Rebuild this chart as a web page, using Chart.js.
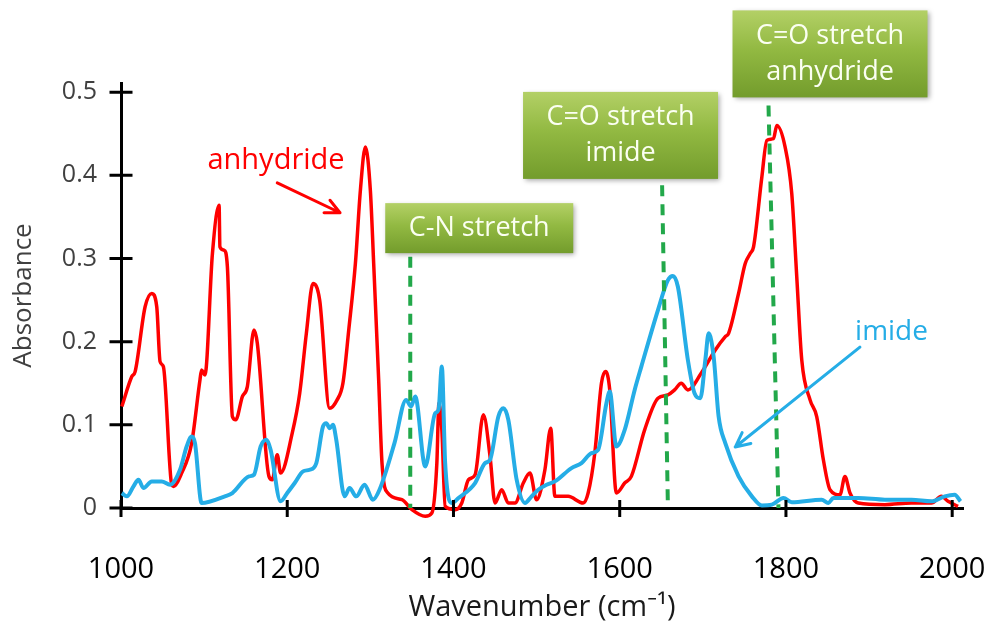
<!DOCTYPE html>
<html>
<head>
<meta charset="utf-8">
<script src="https://cdn.jsdelivr.net/npm/chart.js@4.4.1/dist/chart.umd.min.js"></script>
<style>
  html, body { margin: 0; padding: 0; background: #fff; }
</style>
</head>
<body>
<canvas id="ftir" width="1000" height="637"></canvas>
<script>
// spectra (wavenumber cm-1 / absorbance)
const anhydrideWn = [1001,1013,1017,1029,1037,1043,1047,1051,1061,1063,1073,1085,1095,1097,1101,1110,1118,1119,1124,1128,
  1134,1138,1146,1152,1160,1164,1178,1182,1188,1192,1206,1215,1223,1231,1239,1251,1260,1267,1274,1282,
  1288,1294,1300,1304,1310,1314,1321,1338,1350,1366,1374,1380,1382.5,1386,1390,1402,1410,1418,1426,1436,
  1444,1450,1458,1466,1474,1484,1492,1500,1510,1517,1522,1538,1556,1562,1570,1578,1583,1588,1596,1606,
  1614,1630,1646,1658,1666,1674,1682,1698,1715,1727,1731,1743,1751,1757,1761,1771,1777,1785,1789,1799,
  1807,1813,1819,1829,1837,1845,1853,1865,1871,1877,1887,1919,1951,1975,1987,1995,2007];
const anhydrideAbs = [0.122,0.158,0.164,0.242,0.258,0.242,0.176,0.170,0.028,0.026,0.042,0.078,0.154,0.166,0.160,0.306,0.364,0.314,0.310,0.290,
  0.110,0.106,0.134,0.146,0.214,0.198,0.038,0.034,0.064,0.042,0.090,0.138,0.210,0.270,0.250,0.120,0.130,0.150,0.214,0.294,
  0.382,0.434,0.382,0.294,0.154,0.054,0.018,0.010,-0.002,-0.010,-0.006,0.054,0.126,0.094,0.002,-0.002,0.006,0.034,0.040,0.112,
  0.062,0.006,0.022,0.006,0.006,0.030,0.042,0.010,0.046,0.096,0.014,0.014,0.006,0.018,0.066,0.150,0.164,0.142,0.018,0.030,
  0.038,0.094,0.132,0.136,0.142,0.150,0.142,0.162,0.190,0.206,0.210,0.258,0.294,0.306,0.314,0.398,0.442,0.444,0.460,0.434,
  0.378,0.278,0.178,0.130,0.110,0.058,0.022,0.016,0.038,0.018,0.006,0.004,0.006,0.006,0.014,0.008,0.002];

const imideWn = [1001,1007,1015,1021,1027,1037,1049,1059,1071,1079,1085,1089,1097,1125,1134,1154,1160,1168,1175,1180,
  1192,1200,1209,1219,1227,1235,1243,1247,1251,1255,1259,1269,1275,1283,1293,1303,1311,1329,1343,1349,
  1354,1366,1378,1382,1386,1390,1398,1406,1426,1438,1444,1454,1460,1466,1476,1486,1494,1502,1512,1522,
  1542,1554,1566,1574,1584,1588,1596,1606,1618,1626,1646,1658,1664,1670,1682,1690,1697,1703,1707,1713,
  1719,1727,1743,1759,1771,1783,1797,1807,1843,1851,1857,1887,1919,1951,1975,1991,2003,2010];
const imideAbs = [0.018,0.014,0.026,0.034,0.024,0.032,0.032,0.028,0.046,0.074,0.086,0.078,0.006,0.014,0.018,0.038,0.040,0.074,0.082,0.070,
  0.008,0.018,0.030,0.044,0.046,0.054,0.098,0.102,0.096,0.100,0.082,0.014,0.024,0.014,0.028,0.010,0.022,0.078,0.130,0.122,
  0.134,0.050,0.114,0.118,0.170,0.054,0.006,0.012,0.030,0.054,0.058,0.110,0.120,0.106,0.034,0.006,0.014,0.022,0.028,0.032,
  0.048,0.054,0.066,0.070,0.126,0.140,0.074,0.094,0.142,0.170,0.238,0.274,0.279,0.266,0.178,0.138,0.132,0.178,0.210,0.182,
  0.110,0.078,0.038,0.014,0.003,0.004,0.012,0.007,0.010,0.006,0.012,0.012,0.010,0.010,0.008,0.014,0.016,0.008];

const xTicks = [1000, 1200, 1400, 1600, 1800, 2000];
const yTicks = [0, 0.1, 0.2, 0.3, 0.4, 0.5];

// band markers (dashed lines): wavenumber at top / at bottom, absorbance at top
const markerTopWn = [1348, 1651, 1779];
const markerBottomWn = [1348, 1658, 1791];
const markerTopAbs = [0.302, 0.388, 0.484];

// green label boxes, centred on a data position
const boxLines = [['C-N stretch'], ['C=O stretch', 'imide'], ['C=O stretch', 'anhydride']];
const boxWn = [1431, 1601, 1853];
const boxAbs = [0.3365, 0.448, 0.546];

// series labels and their arrows
const labelText = ['anhydride', 'imide'];
const labelWn = [1186.5, 1927];
const labelAbs = [0.418, 0.2115];
const arrowFromWn = [1188, 1889];
const arrowFromAbs = [0.391, 0.1935];
const arrowToWn = [1263.5, 1739];
const arrowToAbs = [0.355, 0.0733];

const RED = '#ff0000';
const BLUE = '#25ade6';
const FONT = "'Open Sans', 'Noto Sans', sans-serif";


function points(xs, ys) {
    return xs.map((v, i) => ({x: v, y: ys[i]}));
}

function arrow(ctx, x0, y0, x1, y1, color) {
    const a = Math.atan2(y1 - y0, x1 - x0);
    ctx.strokeStyle = color;
    ctx.lineWidth = 3;
    ctx.lineCap = 'round';
    ctx.beginPath();
    ctx.moveTo(x0, y0);
    ctx.lineTo(x1, y1);
    for (const s of [-1, 1]) {
        ctx.moveTo(x1, y1);
        ctx.lineTo(x1 - 16 * Math.cos(a + s * 0.45), y1 - 16 * Math.sin(a + s * 0.45));
    }
    ctx.stroke();
}

function greenBox(ctx, cx, cy, lines) {
    const w = lines.length > 1 ? 195 : 188;
    const h = lines.length > 1 ? 87 : 50;
    const x0 = cx - w / 2, y0 = cy - h / 2;
    ctx.save();
    ctx.shadowColor = 'rgba(0,0,0,0.35)';
    ctx.shadowBlur = 5;
    ctx.shadowOffsetX = 2;
    ctx.shadowOffsetY = 2;
    const g = ctx.createLinearGradient(0, y0, 0, y0 + h);
    g.addColorStop(0, '#b3d066');
    g.addColorStop(0.45, '#92b942');
    g.addColorStop(1, '#739c2c');
    ctx.fillStyle = g;
    ctx.fillRect(x0, y0, w, h);
    ctx.restore();
    ctx.fillStyle = '#fbfff2';
    ctx.font = '27px ' + FONT;
    ctx.textAlign = 'center';
    ctx.textBaseline = 'middle';
    lines.forEach((t, i) => {
        ctx.fillText(t, cx, cy + (i - (lines.length - 1) / 2) * 36);
    });
}

// annotations + axis ticks that cross the axis lines
const overlay = {
    id: 'overlay',
    afterDatasetsDraw(chart) {
        const {ctx, chartArea, scales: {x, y}} = chart;
        ctx.save();

        // dashed band markers
        ctx.strokeStyle = '#22a84a';
        ctx.lineWidth = 4;
        ctx.setLineDash([11, 8]);
        for (let i = 0; i < markerTopWn.length; i++) {
            ctx.beginPath();
            ctx.moveTo(x.getPixelForValue(markerTopWn[i]), y.getPixelForValue(markerTopAbs[i]));
            ctx.lineTo(x.getPixelForValue(markerBottomWn[i]), y.getPixelForValue(0));
            ctx.stroke();
        }
        ctx.setLineDash([]);

        for (let i = 0; i < boxLines.length; i++) {
            greenBox(ctx, x.getPixelForValue(boxWn[i]), y.getPixelForValue(boxAbs[i]), boxLines[i]);
        }

        const colors = [RED, BLUE];
        for (let i = 0; i < labelText.length; i++) {
            ctx.fillStyle = colors[i];
            ctx.font = (i === 0 ? '29px ' : '28px ') + FONT;
            ctx.textAlign = 'center';
            ctx.textBaseline = 'middle';
            ctx.fillText(labelText[i], x.getPixelForValue(labelWn[i]), y.getPixelForValue(labelAbs[i]));
            arrow(ctx, x.getPixelForValue(arrowFromWn[i]), y.getPixelForValue(arrowFromAbs[i]),
                x.getPixelForValue(arrowToWn[i]), y.getPixelForValue(arrowToAbs[i]), colors[i]);
        }

        // cross ticks
        ctx.strokeStyle = '#000';
        ctx.lineWidth = 3;
        ctx.lineCap = 'butt';
        ctx.beginPath();
        xTicks.forEach(v => {
            const px = x.getPixelForValue(v);
            ctx.moveTo(px, chartArea.bottom - 8);
            ctx.lineTo(px, chartArea.bottom + 9);
        });
        yTicks.forEach(v => {
            const py = y.getPixelForValue(v);
            ctx.moveTo(chartArea.left - 11.5, py);
            ctx.lineTo(chartArea.left + 11.5, py);
        });
        ctx.stroke();
        ctx.restore();
    }
};


const ctx = document.getElementById('ftir');

let chart1 = new Chart(ctx, {
    type: 'line',
    data: {
        datasets: [
            {
                label: 'anhydride',
                data: points(anhydrideWn, anhydrideAbs),
                borderColor: RED,
                borderWidth: 3.5,
                pointRadius: 0,
                cubicInterpolationMode: 'monotone',
                clip: false,
                order: 2
            },
            {
                label: 'imide',
                data: points(imideWn, imideAbs),
                borderColor: BLUE,
                borderWidth: 4,
                pointRadius: 0,
                cubicInterpolationMode: 'monotone',
                clip: false,
                order: 1
            }
        ]
    },
    options: {
        responsive: false,
        animation: false,
        layout: {padding: {top: 83, right: 37, left: 0, bottom: 0}},
        plugins: {legend: {display: false}, tooltip: {enabled: false}},
        scales: {
            x: {
                type: 'linear',
                min: 1000,
                max: 2013,
                afterBuildTicks: s => { s.ticks = xTicks.map(v => ({value: v})); },
                afterFit: s => {
                    s.height = 129;
                    s.paddingLeft = 0;
                    s.paddingRight = 0;
                },
                grid: {display: false, drawTicks: false},
                border: {display: true, color: '#000', width: 3},
                ticks: {
                    callback: v => String(v),
                    font: {family: FONT, size: 29},
                    color: '#000',
                    padding: 44,
                    maxRotation: 0,
                    autoSkip: false
                },
                title: {
                    display: true,
                    text: 'Wavenumber (cm⁻¹)',
                    font: {family: FONT, size: 29},
                    color: '#1a1a1a',
                    padding: {top: 0, bottom: 12}
                }
            },
            y: {
                min: 0,
                max: 0.511,
                afterBuildTicks: s => { s.ticks = yTicks.map(v => ({value: v})); },
                afterFit: s => {
                    s.width = 121;
                    s.paddingTop = 0;
                    s.paddingBottom = 0;
                },
                grid: {display: false, drawTicks: false},
                border: {display: true, color: '#000', width: 3},
                ticks: {
                    callback: v => v === 0 ? '0' : v.toFixed(1),
                    font: {family: FONT, size: 25},
                    color: '#404040',
                    padding: 24
                },
                title: {
                    display: true,
                    text: 'Absorbance',
                    font: {family: FONT, size: 26},
                    color: '#404040',
                    padding: {top: 8, bottom: 0}
                }
            }
        }
    },
    plugins: [overlay]
});
</script>
</body>
</html>
